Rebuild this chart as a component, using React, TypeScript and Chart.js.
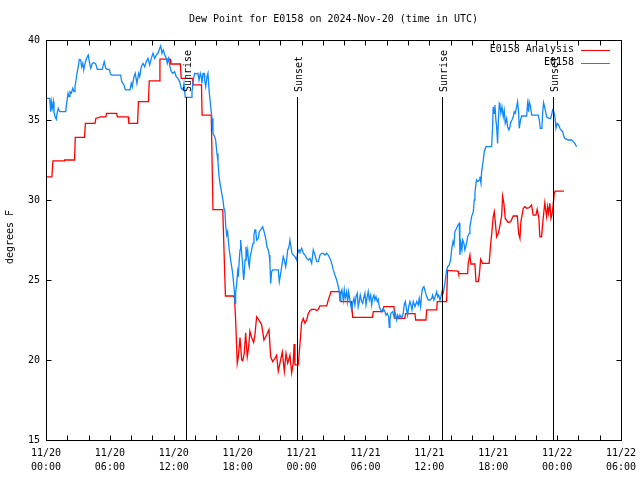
import React, { useEffect, useRef } from 'react';
import { Chart, registerables } from 'chart.js';

Chart.register(...registerables);

const MONO = '"DejaVu Sans Mono", "Liberation Mono", monospace';
const chartTitle = 'Dew Point for E0158 on 2024-Nov-20 (time in UTC)';
const yAxisTitle = 'degrees F';
const seriesNames = ['E0158 Analysis', 'E0158'];
const seriesColors = ['#ff0000', '#0e88ff'];

// x axis: hours since 11/20 00:00 UTC
const xTickDates = ['11/20', '11/20', '11/20', '11/20', '11/21', '11/21', '11/21', '11/21', '11/22', '11/22'];
const xTickTimes = ['00:00', '06:00', '12:00', '18:00', '00:00', '06:00', '12:00', '18:00', '00:00', '06:00'];
const yTickValues = [15, 20, 25, 30, 35, 40];

const sunHours = [13.18, 23.6, 37.22, 47.59];
const sunLabels = ['Sunrise', 'Sunset', 'Sunrise', 'Sunset'];

// [hour, dew point F]
const analysisSeries: [number, number][] = [
  [0, 31.44], [0.55, 31.44], [0.65, 32.44], [1.7, 32.44], [1.75, 32.5], [2.68, 32.5], [2.75, 33.92],
  [3.62, 33.92], [3.7, 34.79], [4.6, 34.79], [4.68, 35.1], [5.0, 35.17], [5.1, 35.2], [5.62, 35.2],
  [5.68, 35.42], [6.65, 35.42], [6.7, 35.2], [7.72, 35.2], [7.78, 34.79], [8.6, 34.79], [8.68, 36.15],
  [9.62, 36.15], [9.7, 37.45], [10.62, 37.45], [10.7, 38.8], [11.65, 38.8], [11.72, 38.5], [12.62, 38.5],
  [12.7, 37.6], [13.75, 37.6], [13.8, 37.2], [14.6, 37.2], [14.66, 35.3], [15.52, 35.3], [15.68, 29.4],
  [16.6, 29.4], [16.85, 24.0], [17.59, 24.0], [17.7, 23.9], [17.81, 22.5], [17.96, 19.8], [18.06, 20.2],
  [18.22, 21.4], [18.38, 20.0], [18.47, 19.95], [18.62, 20.4], [18.75, 21.7], [18.9, 20.2], [19.03, 20.8],
  [19.15, 21.8], [19.31, 21.4], [19.5, 21.1], [19.62, 21.56], [19.78, 22.7], [19.93, 22.55], [20.09, 22.4],
  [20.25, 22.2], [20.47, 21.25], [20.72, 21.56], [20.94, 21.9], [21.1, 20.2], [21.29, 19.9], [21.5, 20.1],
  [21.66, 20.3], [21.81, 19.3], [21.97, 19.8], [22.19, 20.5], [22.38, 19.3], [22.54, 20.4], [22.7, 19.8],
  [22.91, 20.3], [23.07, 19.2], [23.22, 19.8], [23.3, 21.0], [23.38, 19.7], [23.69, 19.7], [23.85, 21.0],
  [24.0, 22.3], [24.16, 22.6], [24.32, 22.3], [24.48, 22.5], [24.63, 22.9], [24.79, 23.08], [24.95, 23.17],
  [25.26, 23.17], [25.42, 23.08], [25.57, 23.17], [25.73, 23.38], [26.36, 23.38], [26.51, 23.75],
  [26.67, 24.06], [26.76, 24.27], [27.61, 24.27], [27.7, 23.65], [28.7, 23.65], [28.8, 22.67],
  [30.66, 22.67], [30.74, 23.02], [31.64, 23.02], [31.72, 23.33], [32.68, 23.33], [32.77, 22.6],
  [33.7, 22.6], [33.77, 22.9], [34.65, 22.9], [34.72, 22.5], [35.68, 22.5], [35.75, 23.13], [36.69, 23.13],
  [36.74, 23.65], [37.62, 23.65], [37.71, 25.6], [38.7, 25.56], [38.75, 25.4], [39.6, 25.4], [39.65, 26.04],
  [39.81, 26.56], [39.9, 26.0], [40.28, 26.0], [40.38, 24.9], [40.6, 24.9], [40.69, 25.3], [40.82, 26.3],
  [41.0, 26.04], [41.62, 26.04], [41.76, 27.25], [41.88, 28.02], [42.0, 28.96], [42.1, 29.27], [42.19, 28.65],
  [42.32, 27.7], [42.47, 27.9], [42.63, 28.4], [42.79, 29.0], [42.88, 30.25], [43.0, 29.8], [43.13, 28.85],
  [43.41, 28.6], [43.64, 28.65], [43.88, 29.0], [44.26, 29.0], [44.39, 27.9], [44.51, 27.6], [44.6, 28.65],
  [44.82, 29.48], [44.98, 29.58], [45.14, 29.48], [45.38, 29.52], [45.6, 29.69], [45.75, 29.06], [46.01, 29.06],
  [46.13, 29.42], [46.29, 28.85], [46.38, 27.7], [46.54, 27.7], [46.69, 28.85], [46.85, 29.83], [47.01, 28.96],
  [47.11, 29.58], [47.2, 29.17], [47.32, 29.8], [47.42, 28.85], [47.51, 29.06], [47.63, 29.69], [47.73, 30.42],
  [47.82, 30.56], [48.64, 30.56],
];

const stationSeries: [number, number][] = [
  [0, 36.35], [0.35, 36.35], [0.44, 35.52], [0.5, 36.15], [0.59, 35.73], [0.69, 36.15], [0.75, 35.5],
  [0.85, 35.2], [0.97, 35.04], [1.06, 35.5], [1.15, 35.73], [1.29, 35.52], [1.85, 35.52], [1.94, 36.04],
  [2.07, 36.67], [2.16, 36.46], [2.25, 36.77], [2.38, 36.67], [2.51, 36.98], [2.63, 36.77], [2.72, 37.08],
  [2.82, 37.5], [2.94, 38.02], [3.03, 38.33], [3.13, 38.79], [3.26, 38.75], [3.35, 38.33], [3.45, 38.54],
  [3.54, 38.13], [3.63, 38.44], [3.76, 38.75], [3.88, 38.96], [3.97, 39.06], [4.1, 38.54], [4.2, 38.23],
  [4.35, 38.54], [4.51, 38.58], [4.67, 38.5], [4.82, 38.17], [5.29, 38.17], [5.38, 38.44], [5.47, 38.65],
  [5.61, 38.23], [5.76, 38.17], [5.94, 38.17], [6.07, 37.85], [6.2, 37.81], [7.01, 37.81], [7.11, 37.4],
  [7.23, 37.29], [7.32, 37.19], [7.45, 36.88], [7.89, 36.88], [8.01, 37.29], [8.1, 37.08], [8.26, 37.7],
  [8.38, 37.92], [8.54, 37.29], [8.7, 37.92], [8.8, 37.71], [8.95, 38.33], [9.11, 38.54], [9.27, 38.33],
  [9.42, 38.65], [9.58, 38.85], [9.74, 38.44], [9.89, 38.85], [10.05, 39.17], [10.21, 38.85], [10.36, 39.06],
  [10.52, 39.17], [10.68, 39.48], [10.77, 39.63], [10.89, 39.17], [11.01, 39.38], [11.15, 39.06],
  [11.3, 38.85], [11.39, 38.54], [11.52, 38.85], [11.64, 38.33], [11.77, 38.02], [11.92, 37.92],
  [12.08, 38.02], [12.23, 37.7], [12.39, 37.6], [12.55, 37.4], [12.7, 36.98], [12.86, 36.88], [12.96, 37.29],
  [13.08, 36.42], [13.64, 36.42], [13.71, 36.77], [13.83, 37.5], [13.96, 37.92], [14.11, 37.88],
  [14.27, 37.92], [14.37, 37.5], [14.49, 37.92], [14.58, 37.71], [14.65, 37.29], [14.74, 37.92],
  [14.84, 37.92], [14.9, 37.5], [15.0, 37.08], [15.12, 37.71], [15.21, 37.92], [15.31, 36.88], [15.47, 35.83],
  [15.59, 35.1], [15.68, 34.17], [15.84, 33.96], [15.93, 33.75], [16.06, 32.9], [16.15, 32.4], [16.24, 31.56],
  [16.34, 31.04], [16.43, 30.73], [16.5, 30.42], [16.62, 30.0], [16.71, 29.48], [16.81, 29.27], [16.87, 28.44],
  [16.97, 27.81], [17.06, 28.02], [17.12, 27.5], [17.21, 26.88], [17.34, 26.25], [17.44, 25.83], [17.53, 25.42],
  [17.62, 24.79], [17.68, 24.38], [17.75, 23.54], [17.81, 24.17], [17.91, 24.79], [18.0, 25.52], [18.06, 25.2],
  [18.15, 26.25], [18.22, 26.88], [18.28, 27.5], [18.38, 26.67], [18.47, 25.94], [18.56, 25.0], [18.62, 25.42],
  [18.69, 26.25], [18.78, 27.08], [18.84, 26.46], [18.94, 26.88], [19.03, 26.04], [19.09, 25.83], [19.18, 26.46],
  [19.31, 26.88], [19.44, 27.3], [19.53, 27.8], [19.62, 28.13], [19.69, 28.13], [19.78, 27.5], [19.93, 27.6],
  [20.03, 28.02], [20.16, 28.13], [20.25, 28.23], [20.35, 28.33], [20.44, 28.13], [20.56, 27.8], [20.66, 27.5],
  [20.75, 27.08], [20.87, 26.88], [20.97, 26.56], [21.03, 26.04], [21.1, 24.79], [21.19, 25.52], [21.29, 25.63],
  [21.81, 25.63], [21.91, 24.9], [22.04, 25.42], [22.16, 25.94], [22.28, 26.46], [22.38, 26.25], [22.51, 25.83],
  [22.6, 26.25], [22.7, 26.88], [22.82, 27.08], [22.91, 27.5], [23.0, 27.08], [23.1, 26.67], [23.22, 26.56],
  [23.38, 26.46], [23.54, 26.25], [23.63, 26.67], [23.76, 26.88], [23.85, 26.77], [24.01, 26.98], [24.16, 26.67],
  [24.32, 26.56], [24.48, 26.35], [24.63, 26.25], [24.79, 26.35], [24.95, 26.04], [25.1, 26.88], [25.26, 26.56],
  [25.42, 26.15], [25.57, 26.15], [25.73, 26.56], [25.89, 26.67], [26.04, 26.67], [26.2, 26.56], [26.36, 26.67],
  [26.51, 26.56], [26.67, 26.35], [26.83, 26.04], [26.98, 25.63], [27.14, 25.3], [27.3, 25.0], [27.45, 24.58],
  [27.54, 24.27], [27.61, 23.65], [27.7, 24.17], [27.79, 24.38], [27.92, 23.75], [28.01, 24.38], [28.1, 23.85],
  [28.23, 24.27], [28.33, 23.65], [28.42, 24.27], [28.54, 23.75], [28.64, 23.33], [28.7, 23.13], [28.8, 23.54],
  [28.92, 23.85], [29.01, 23.44], [29.11, 23.96], [29.23, 24.17], [29.32, 23.33], [29.42, 23.65], [29.51, 24.06],
  [29.64, 23.65], [29.74, 23.54], [29.83, 23.85], [29.95, 24.17], [30.05, 23.44], [30.14, 23.85], [30.26, 24.27],
  [30.36, 23.75], [30.49, 24.06], [30.58, 23.44], [30.68, 23.85], [30.8, 24.06], [30.89, 23.75], [30.99, 23.96],
  [31.11, 23.65], [31.2, 23.79], [31.3, 23.33], [31.43, 23.13], [31.52, 23.02], [31.67, 23.23], [31.83, 23.02],
  [31.92, 22.81], [32.05, 22.92], [32.18, 22.7], [32.24, 22.04], [32.3, 22.5], [32.39, 22.92], [32.55, 23.02],
  [32.68, 22.7], [32.77, 23.02], [32.93, 22.5], [33.02, 22.81], [33.15, 22.6], [33.24, 22.81], [33.4, 22.6],
  [33.55, 22.92], [33.64, 23.44], [33.74, 23.65], [33.87, 23.13], [33.96, 22.81], [34.06, 23.33], [34.18, 23.65],
  [34.27, 23.44], [34.37, 23.13], [34.49, 23.65], [34.65, 23.33], [34.81, 23.65], [34.96, 23.44], [35.05, 23.85],
  [35.18, 23.33], [35.28, 24.17], [35.37, 24.48], [35.49, 24.58], [35.62, 24.27], [35.75, 23.96], [35.9, 23.75],
  [36.06, 23.75], [36.22, 23.85], [36.31, 24.06], [36.43, 23.75], [36.55, 23.96], [36.69, 24.27], [36.78, 23.96],
  [36.87, 24.06], [37.0, 23.75], [37.09, 23.96], [37.18, 24.27], [37.31, 24.17], [37.46, 24.79], [37.62, 25.6],
  [37.72, 25.83], [37.84, 25.9], [38.0, 26.25], [38.09, 26.88], [38.22, 27.4], [38.31, 27.2], [38.4, 28.02],
  [38.56, 28.23], [38.69, 28.44], [38.81, 28.54], [38.87, 26.56], [38.97, 27.29], [39.06, 26.88], [39.13, 27.5],
  [39.25, 27.29], [39.34, 26.88], [39.5, 27.29], [39.6, 27.7], [39.75, 27.92], [39.81, 28.33], [39.97, 28.96],
  [40.13, 29.27], [40.22, 30.0], [40.28, 30.42], [40.38, 31.04], [40.44, 31.25], [40.54, 31.15], [40.69, 31.25],
  [40.75, 31.46], [40.85, 31.04], [40.91, 31.77], [41.07, 32.5], [41.16, 33.02], [41.31, 33.33], [41.85, 33.33],
  [41.94, 34.58], [42.0, 35.83], [42.09, 35.42], [42.16, 35.94], [42.25, 35.0], [42.32, 34.58], [42.41, 33.54],
  [42.47, 34.79], [42.57, 36.04], [42.63, 35.94], [42.72, 35.42], [42.82, 35.83], [42.94, 35.2], [43.03, 35.6],
  [43.13, 34.8], [43.26, 35.1], [43.35, 34.58], [43.47, 34.38], [43.57, 34.58], [43.66, 34.9], [43.76, 35.0],
  [43.88, 35.2], [43.97, 35.52], [44.07, 35.42], [44.2, 35.83], [44.29, 36.15], [44.39, 35.42], [44.44, 34.48],
  [44.57, 35.0], [44.67, 35.25], [45.14, 35.25], [45.23, 36.04], [45.33, 35.52], [45.38, 36.15], [45.51, 35.83],
  [45.61, 35.31], [46.23, 35.31], [46.33, 35.0], [46.42, 34.48], [46.57, 34.48], [46.64, 35.42], [46.73, 36.08],
  [46.82, 35.83], [46.92, 35.52], [47.01, 35.2], [47.23, 35.1], [47.39, 35.1], [47.48, 35.31], [47.58, 35.63],
  [47.7, 35.52], [47.79, 35.2], [47.89, 34.48], [48.01, 34.79], [48.14, 34.69], [48.26, 34.48], [48.36, 34.38],
  [48.52, 34.27], [48.64, 33.96], [48.73, 33.85], [49.04, 33.75], [49.36, 33.75], [49.52, 33.65], [49.67, 33.54],
  [49.83, 33.33],
];

const gnuplotDecor = {
  id: 'gnuplotDecor',
  afterDatasetsDraw(chart: any) {
    const { ctx, chartArea: a, scales } = chart;
    const x = scales.x;
    const y = scales.y;
    const font = '10px ' + MONO;
    ctx.save();
    ctx.strokeStyle = '#000';
    ctx.fillStyle = '#000';
    ctx.lineWidth = 1;
    ctx.font = font;

    // sunrise / sunset markers
    sunHours.forEach((h, i) => {
      const px = Math.round(x.getPixelForValue(h)) + 0.5;
      ctx.beginPath();
      ctx.moveTo(px, a.top + 57);
      ctx.lineTo(px, a.bottom);
      ctx.stroke();
      ctx.save();
      ctx.translate(px + 1.5, a.top + 52);
      ctx.rotate(-Math.PI / 2);
      ctx.textAlign = 'left';
      ctx.textBaseline = 'middle';
      ctx.fillText(sunLabels[i], 0, 0);
      ctx.restore();
    });

    // border
    const L = Math.round(a.left) + 0.5;
    const R = Math.round(a.right) + 0.5;
    const T = Math.round(a.top) + 0.5;
    const B = Math.round(a.bottom) + 0.5;
    ctx.strokeRect(L, T, R - L, B - T);

    // inward ticks (every 2 h on x, every 5 on y), mirrored
    ctx.beginPath();
    for (let h = x.min; h <= x.max + 1e-6; h += 2) {
      const px = Math.round(x.getPixelForValue(h)) + 0.5;
      ctx.moveTo(px, B); ctx.lineTo(px, B - 5);
      ctx.moveTo(px, T); ctx.lineTo(px, T + 5);
    }
    yTickValues.forEach((v) => {
      const py = Math.round(y.getPixelForValue(v)) + 0.5;
      ctx.moveTo(L, py); ctx.lineTo(L + 5, py);
      ctx.moveTo(R, py); ctx.lineTo(R - 5, py);
    });
    ctx.stroke();

    // title
    ctx.textAlign = 'center';
    ctx.textBaseline = 'middle';
    ctx.fillText(chartTitle, (a.left + a.right) / 2, 19);

    // y axis title
    ctx.save();
    ctx.translate(10, (a.top + a.bottom) / 2 - 3);
    ctx.rotate(-Math.PI / 2);
    ctx.textAlign = 'center';
    ctx.textBaseline = 'middle';
    ctx.fillText(yAxisTitle, 0, 0);
    ctx.restore();

    // legend (gnuplot style: text right-aligned, sample line to the right)
    seriesNames.forEach((name, i) => {
      const ly = a.top + 9.5 + i * 13;
      ctx.textAlign = 'right';
      ctx.textBaseline = 'middle';
      ctx.fillStyle = '#000';
      ctx.fillText(name, a.right - 47, ly);
      ctx.strokeStyle = seriesColors[i];
      ctx.beginPath();
      ctx.moveTo(a.right - 40, Math.round(ly) + 0.5);
      ctx.lineTo(a.right - 11, Math.round(ly) + 0.5);
      ctx.stroke();
    });
    ctx.restore();
  },
};

export default function App() {
  const canvasRef = useRef<HTMLCanvasElement | null>(null);

  useEffect(() => {
    const canvas = canvasRef.current;
    if (!canvas) return;
    const tickFont = { family: MONO, size: 10, lineHeight: 1.4 };
    const chart = new Chart(canvas, {
      type: 'line',
      data: {
        datasets: [
          {
            label: seriesNames[0],
            data: analysisSeries.map(([h, v]) => ({ x: h, y: v })),
            borderColor: seriesColors[0],
            borderWidth: 1.3,
            pointRadius: 0,
            tension: 0,
            fill: false,
            order: 2,
          },
          {
            label: seriesNames[1],
            data: stationSeries.map(([h, v]) => ({ x: h, y: v })),
            borderColor: seriesColors[1],
            borderWidth: 1.3,
            pointRadius: 0,
            tension: 0,
            fill: false,
            order: 1,
          },
        ],
      },
      options: {
        animation: false,
        responsive: false,
        maintainAspectRatio: false,
        devicePixelRatio: 1,
        layout: { padding: { top: 40, right: 19, left: 0, bottom: 0 } },
        plugins: {
          legend: { display: false },
          title: { display: false },
          tooltip: { enabled: false },
        },
        events: [],
        scales: {
          x: {
            type: 'linear',
            min: 0,
            max: 54,
            afterFit: (s: any) => { s.height = 40; s.paddingLeft = 0; s.paddingRight = 0; },
            grid: { display: false, drawTicks: false },
            border: { display: false },
            ticks: {
              stepSize: 6,
              autoSkip: false,
              maxRotation: 0,
              minRotation: 0,
              padding: 6,
              color: '#000',
              font: tickFont,
              callback: (v: any) => {
                const i = Math.round(Number(v) / 6);
                return [xTickDates[i], xTickTimes[i]];
              },
            },
          },
          y: {
            type: 'linear',
            min: 15,
            max: 40,
            afterFit: (s: any) => { s.width = 46; s.paddingTop = 0; s.paddingBottom = 0; },
            grid: { display: false, drawTicks: false },
            border: { display: false },
            ticks: {
              stepSize: 5,
              padding: 6,
              color: '#000',
              font: { family: MONO, size: 10 },
            },
          },
        },
      },
      plugins: [gnuplotDecor],
    } as any);
    return () => chart.destroy();
  }, []);

  return (
    <div style={{ position: 'absolute', left: 0, top: 0, width: 640, height: 480, background: '#fff' }}>
      <canvas ref={canvasRef} width={640} height={480} style={{ display: 'block', width: 640, height: 480 }} />
    </div>
  );
}
